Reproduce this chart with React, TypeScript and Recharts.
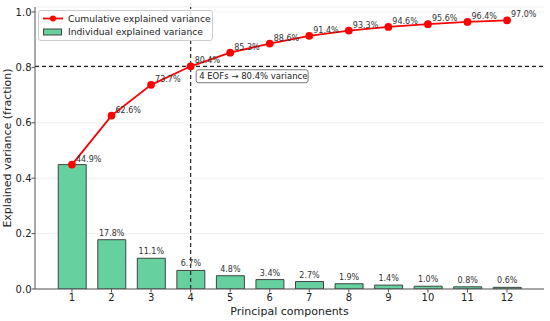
import React from 'react';
import {
  ComposedChart, Bar, Line, XAxis, YAxis, CartesianGrid, ReferenceLine,
  ReferenceDot, LabelList,
} from 'recharts';

const components = [1, 2, 3, 4, 5, 6, 7, 8, 9, 10, 11, 12];
const individual = [0.449, 0.178, 0.111, 0.067, 0.048, 0.034, 0.027, 0.019, 0.014, 0.010, 0.008, 0.006];
const cumulative = [0.449, 0.626, 0.737, 0.804, 0.853, 0.886, 0.914, 0.933, 0.946, 0.956, 0.964, 0.970];
const yTicks = [0, 0.2, 0.4, 0.6, 0.8, 1.0];
const nEofs = 4;
const threshold = 0.804;

const data = components.map((c, i) => ({ pc: c, ind: individual[i], cum: cumulative[i] }));

const FONT = '"DejaVu Sans", sans-serif';
const pct = (v: number) => (v * 100).toFixed(1) + '%';

const LineLabel = (props: any) => {
  const { x, y, value } = props;
  return (
    <text x={x + 4} y={y - 3} fontSize={8} fill="#333" fontFamily={FONT} textAnchor="start">
      {pct(value)}
    </text>
  );
};

const BarLabel = (props: any) => {
  const { x, y, width, value, index } = props;
  if (index === 0) return null;
  return (
    <text x={x + width / 2} y={y - 4} fontSize={8} fill="#333" fontFamily={FONT} textAnchor="middle">
      {pct(value)}
    </text>
  );
};

const AnnotLabel = (props: any) => {
  const vb = props.viewBox || {};
  const cx = vb.x + (vb.width || 0) / 2;
  const cy = vb.y + (vb.height || 0) / 2;
  return (
    <g>
      <rect x={cx + 5.5} y={cy + 3.5} width={112} height={13} rx={2.5} fill="#fff" stroke="#555" strokeWidth={0.8} />
      <text x={cx + 8.5} y={cy + 13} fontSize={8.5} fill="#222" fontFamily={FONT}>
        {`${nEofs} EOFs → ${pct(threshold)} variance`}
      </text>
    </g>
  );
};

const YLabel = (props: any) => {
  const vb = props.viewBox || {};
  const cx = 7.5;
  const cy = vb.y + vb.height / 2;
  return (
    <text x={cx} y={cy} transform={`rotate(-90, ${cx}, ${cy})`} textAnchor="middle" dominantBaseline="central"
      fontSize={11} fill="#222" fontFamily={FONT}>
      Explained variance (fraction)
    </text>
  );
};

const LegendBox = () => (
  <div style={{
    position: 'absolute', left: 38, top: 10,
    width: 175, height: 31, border: '1px solid #ccc', borderRadius: 3, background: 'rgba(255,255,255,0.85)',
    fontFamily: FONT, fontSize: 9.2, color: '#222', boxSizing: 'border-box',
  }}>
    <svg width={24} height={30} style={{ position: 'absolute', left: 3, top: 0 }}>
      <line x1={1} y1={7.5} x2={21} y2={7.5} stroke="#ff0000" strokeWidth={1.8} />
      <circle cx={11} cy={7.5} r={3} fill="#ff0000" />
      <rect x={1.5} y={18} width={18} height={6} fill="#66d19e" stroke="#333" strokeWidth={0.9} />
    </svg>
    <div style={{ position: 'absolute', left: 29, top: 2, whiteSpace: 'nowrap', lineHeight: '11px' }}>Cumulative explained variance</div>
    <div style={{ position: 'absolute', left: 29, top: 15, whiteSpace: 'nowrap', lineHeight: '11px' }}>Individual explained variance</div>
  </div>
);

export default function App() {
  return (
    <div style={{ position: 'absolute', left: 0, top: 0, width: 550, height: 321, background: '#fff' }}>
      <ComposedChart width={550} height={321} data={data} margin={{ top: 7, right: 6, bottom: 0, left: 0 }}>
        <CartesianGrid vertical={false} stroke="#ebebeb" strokeWidth={0.8} />
        <XAxis
          dataKey="pc" type="number" domain={[0.065, 12.935]} ticks={components}
          tickSize={3.5} tickMargin={1} stroke="#555" height={32} allowDataOverflow
          tick={{ fontSize: 10, fill: '#222', fontFamily: FONT }}
          label={{ value: 'Principal components', position: 'insideBottom', offset: 6, fontSize: 11, fill: '#222', fontFamily: FONT }}
        />
        <XAxis xAxisId="top" orientation="top" dataKey="pc" type="number" domain={[0.065, 12.935]} height={0} tick={false} tickLine={false} stroke="#555" />
        <YAxis
          type="number" domain={[0, 1.018]} ticks={yTicks} tickSize={3.5} tickMargin={0} stroke="#555" width={35}
          allowDataOverflow
          tickFormatter={(v: number) => v.toFixed(1)}
          tick={{ fontSize: 10, fill: '#222', fontFamily: FONT }}
          label={<YLabel />}
        />
        <YAxis yAxisId="right" orientation="right" width={0} tick={false} tickLine={false} stroke="#555" domain={[0, 1.018]} />
        <Bar dataKey="ind" barSize={28} fill="#66d19e" stroke="#333" strokeWidth={0.9} isAnimationActive={false}>
          <LabelList dataKey="ind" content={BarLabel} />
        </Bar>
        <ReferenceLine x={nEofs} stroke="#333" strokeDasharray="4 3" strokeWidth={1.3} />
        <ReferenceLine y={threshold} stroke="#222" strokeDasharray="4 3" strokeWidth={1.3} />
        <Line dataKey="cum" stroke="#ff0000" strokeWidth={1.8} dot={{ r: 3, fill: '#ff0000', stroke: '#ff0000' }} isAnimationActive={false}>
          <LabelList dataKey="cum" content={LineLabel} />
        </Line>
        <ReferenceDot x={nEofs} y={threshold} r={0} label={AnnotLabel} />
      </ComposedChart>
      <LegendBox />
    </div>
  );
}
